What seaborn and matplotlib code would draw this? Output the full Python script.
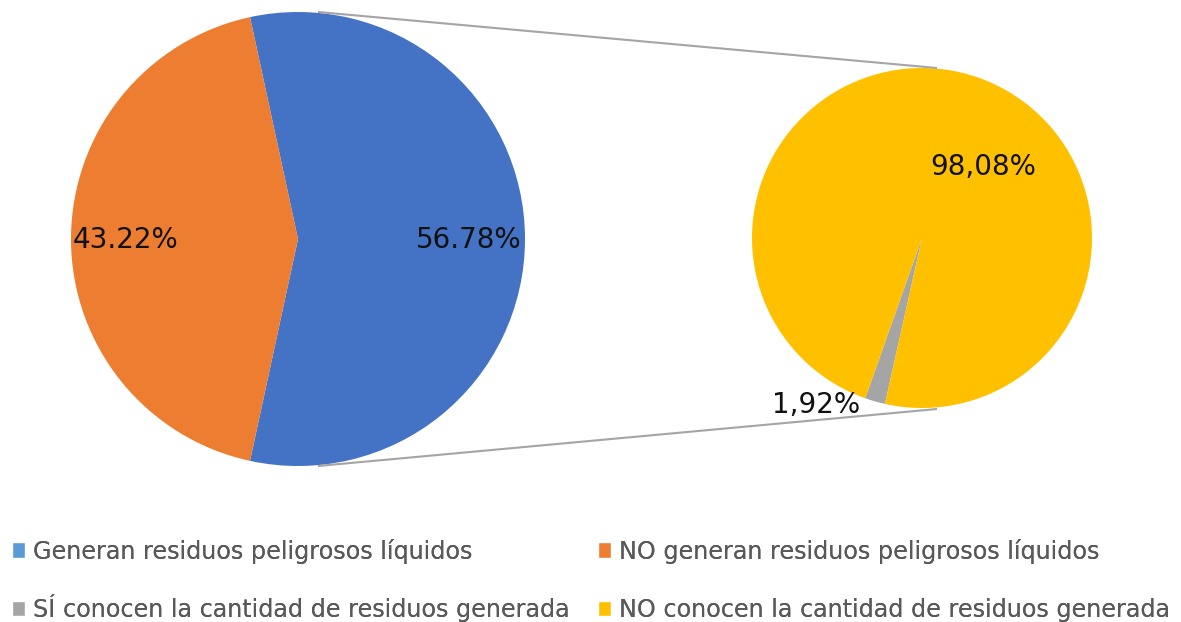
import matplotlib
matplotlib.use("Agg")
import matplotlib.pyplot as plt
import seaborn as sns
from matplotlib.patches import Patch
from matplotlib.font_manager import FontProperties

sns.set_theme(style="white")
plt.rcParams['font.family'] = ['DejaVu Sans']

# ---- data ----
main_labels = ["Generan residuos peligrosos líquidos", "NO generan residuos peligrosos líquidos"]
main_values = [56.78, 43.22]
main_texts = ["56.78%", "43.22%"]
sub_labels = ["SÍ conocen la cantidad de residuos generada", "NO conocen la cantidad de residuos generada"]
sub_values = [1.92, 98.08]
sub_texts = ["1,92%", "98,08%"]

pie_main_colors = ["#4472C4", "#ED7D31"]
pie_sub_colors = ["#A5A5A5", "#FFC000"]
legend_main_colors = ["#5B9BD5", "#ED7D31"]
legend_sub_colors = ["#A5A5A5", "#FFC000"]

W, H = 1181, 622
fig = plt.figure(figsize=(W / 100, H / 100), dpi=100)
ax = fig.add_axes([0, 0, 1, 1])

def Y(y):
    return H - y

# main pie
c1 = (298, Y(239)); r1 = 227
ax.pie(main_values, colors=pie_main_colors, center=c1, radius=r1,
       startangle=-main_values[0] / 100 * 360 / 2, counterclock=True,
       wedgeprops=dict(linewidth=0), frame=False)
# sub pie
c2 = (922, Y(238)); r2 = 170
ax.pie(sub_values, colors=pie_sub_colors, center=c2, radius=r2,
       startangle=-109.5, counterclock=True,
       wedgeprops=dict(linewidth=0), frame=False)

# connector lines
ax.plot([318, 937], [Y(12), Y(68)], color="#A5A5A5", lw=1.5, solid_capstyle="butt")
ax.plot([318, 937], [Y(466), Y(409)], color="#A5A5A5", lw=1.5, solid_capstyle="butt")

# data labels
lab_font = dict(family="DejaVu Sans", fontsize=20, color="#111111",
                va="center", ha="center")
ax.text(469, Y(240), main_texts[0], **lab_font)
ax.text(126, Y(240), main_texts[1], **lab_font)
ax.text(983, Y(167), sub_texts[1], **lab_font)
ax.text(816, Y(405), sub_texts[0], **lab_font)

ax.set_xlim(0, W)
ax.set_ylim(0, H)
ax.set_aspect("auto")
ax.axis("off")

# ---- legend: one legend per row, columns aligned ----
fs = 17.2
fp = FontProperties(family="DejaVu Sans", size=fs)
fs_px = fs * 100 / 72
renderer = fig.canvas.get_renderer()

def text_w(s):
    t = fig.text(0, 0, s, fontproperties=fp)
    w = t.get_window_extent(renderer).width
    t.remove()
    return w

x0, x_col2 = 12, 598
hl, hh, pad = 0.56, 0.6, 0.3
rows = [
    ([main_labels[0], main_labels[1]], legend_main_colors, 551),
    ([sub_labels[0], sub_labels[1]], legend_sub_colors, 608),
]
for labels, cols, yrow in rows:
    col1_w = (hl + pad) * fs_px + text_w(labels[0])
    cs = (x_col2 - x0 - col1_w) / fs_px
    handles = [Patch(facecolor=c, label=l) for l, c in zip(labels, cols)]
    leg = fig.legend(handles=handles, ncol=2, loc="center left",
                     bbox_to_anchor=(x0 / W, (H - yrow) / H), frameon=False,
                     prop=fp, labelcolor="#595959",
                     handlelength=hl, handleheight=hh, handletextpad=pad,
                     columnspacing=cs, borderpad=0, borderaxespad=0)
    fig.add_artist(leg)

fig.savefig("out.png", dpi=100)
